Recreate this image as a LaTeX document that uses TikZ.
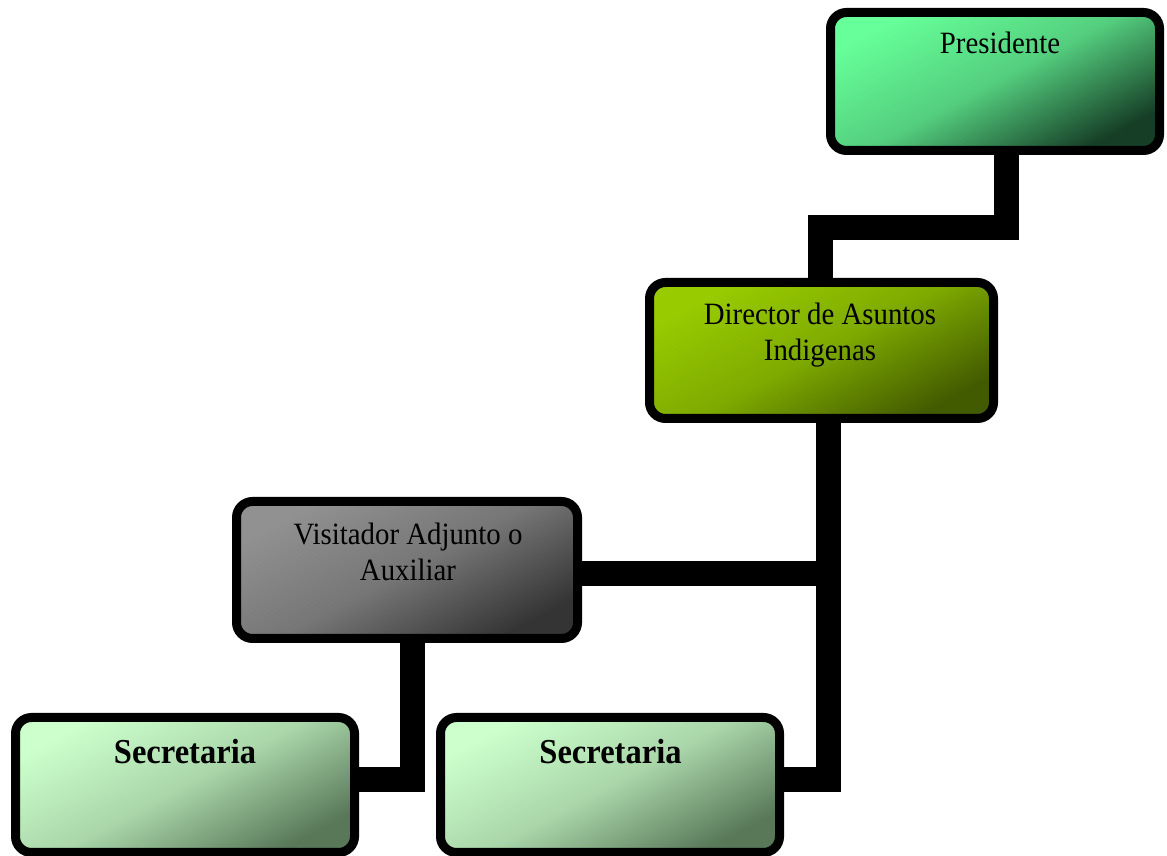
\documentclass[tikz,border=0pt]{standalone}
\usepackage{fontspec}
\setmainfont{Liberation Serif}
\newfontfamily\orgfont[FakeStretch=0.93]{Liberation Serif}
\usetikzlibrary{backgrounds}

\definecolor{presLight}{RGB}{102,255,153}
\definecolor{presMid}{RGB}{84,206,126}
\definecolor{presDark}{RGB}{22,62,38}
\definecolor{dirLight}{RGB}{153,204,0}
\definecolor{dirMid}{RGB}{126,170,0}
\definecolor{dirDark}{RGB}{66,90,0}
\definecolor{visLight}{RGB}{145,145,145}
\definecolor{visMid}{RGB}{118,118,118}
\definecolor{visDark}{RGB}{52,52,52}
\definecolor{secLight}{RGB}{204,255,204}
\definecolor{secMid}{RGB}{170,214,170}
\definecolor{secDark}{RGB}{88,120,88}

\begin{document}
\begin{tikzpicture}[x=1pt,y=1pt,
  box/.style={draw=black, line width=9pt, rounded corners=16pt, inner sep=0pt,
    minimum width=340pt, minimum height=136pt},
  shadeset/.style n args={3}{top color=#1, bottom color=#3, middle color=#2, shading angle=28},
  conn/.style={draw=black, line width=25pt, line join=miter},
  lbl/.style={font=\orgfont\fontsize{31}{36}\selectfont, align=center, inner sep=0pt},
  seclbl/.style={font=\orgfont\bfseries\fontsize{35}{40}\selectfont, inner sep=0pt}]

\useasboundingbox (0,0) rectangle (1167,856);

% boxes of the chart
\node[box, shadeset={presLight}{presMid}{presDark}, minimum width=329pt, minimum height=138pt]
  (pres) at (995,774.5) {};
\node[box, shadeset={dirLight}{dirMid}{dirDark}, minimum width=344pt, minimum height=136pt]
  (dir) at (821.5,505.5) {};
\node[box, shadeset={visLight}{visMid}{visDark}, minimum width=341pt, minimum height=137pt]
  (vis) at (407,286) {};
\node[box, shadeset={secLight}{secMid}{secDark}, minimum width=339pt, minimum height=135pt]
  (secL) at (185,71) {};
\node[box, shadeset={secLight}{secMid}{secDark}, minimum width=339pt, minimum height=135pt]
  (secR) at (610,71) {};

% labels
\node[lbl] (presT) at (1000,813) {Presidente};
\node[lbl] (dirT) at (820,521) {Director de Asuntos\\Indigenas};
\node[lbl] (visT) at (408,304.5) {Visitador Adjunto o\\Auxiliar};
\node[seclbl] (secLT) at (185,104) {Secretaria};
\node[seclbl] (secRT) at (610.5,104) {Secretaria};

% bends of the connectors
\coordinate (k1) at (820,628);
\coordinate (k2) at (828,76);
\coordinate (k3) at (828,282);
\coordinate (k4) at (412,76);

\begin{scope}[on background layer]
  \draw[conn] ([xshift=11pt]pres.south) |- (k1) -- (k1 |- dir.north);
  \draw[conn] (dir.south -| k2) -- (k2) -- (secR.east |- k2);
  \draw[conn] (vis.east |- k3) -- (k3);
  \draw[conn] (vis.south -| k4) -- (k4) -- (secL.east |- k4);
\end{scope}
\end{tikzpicture}
\end{document}
